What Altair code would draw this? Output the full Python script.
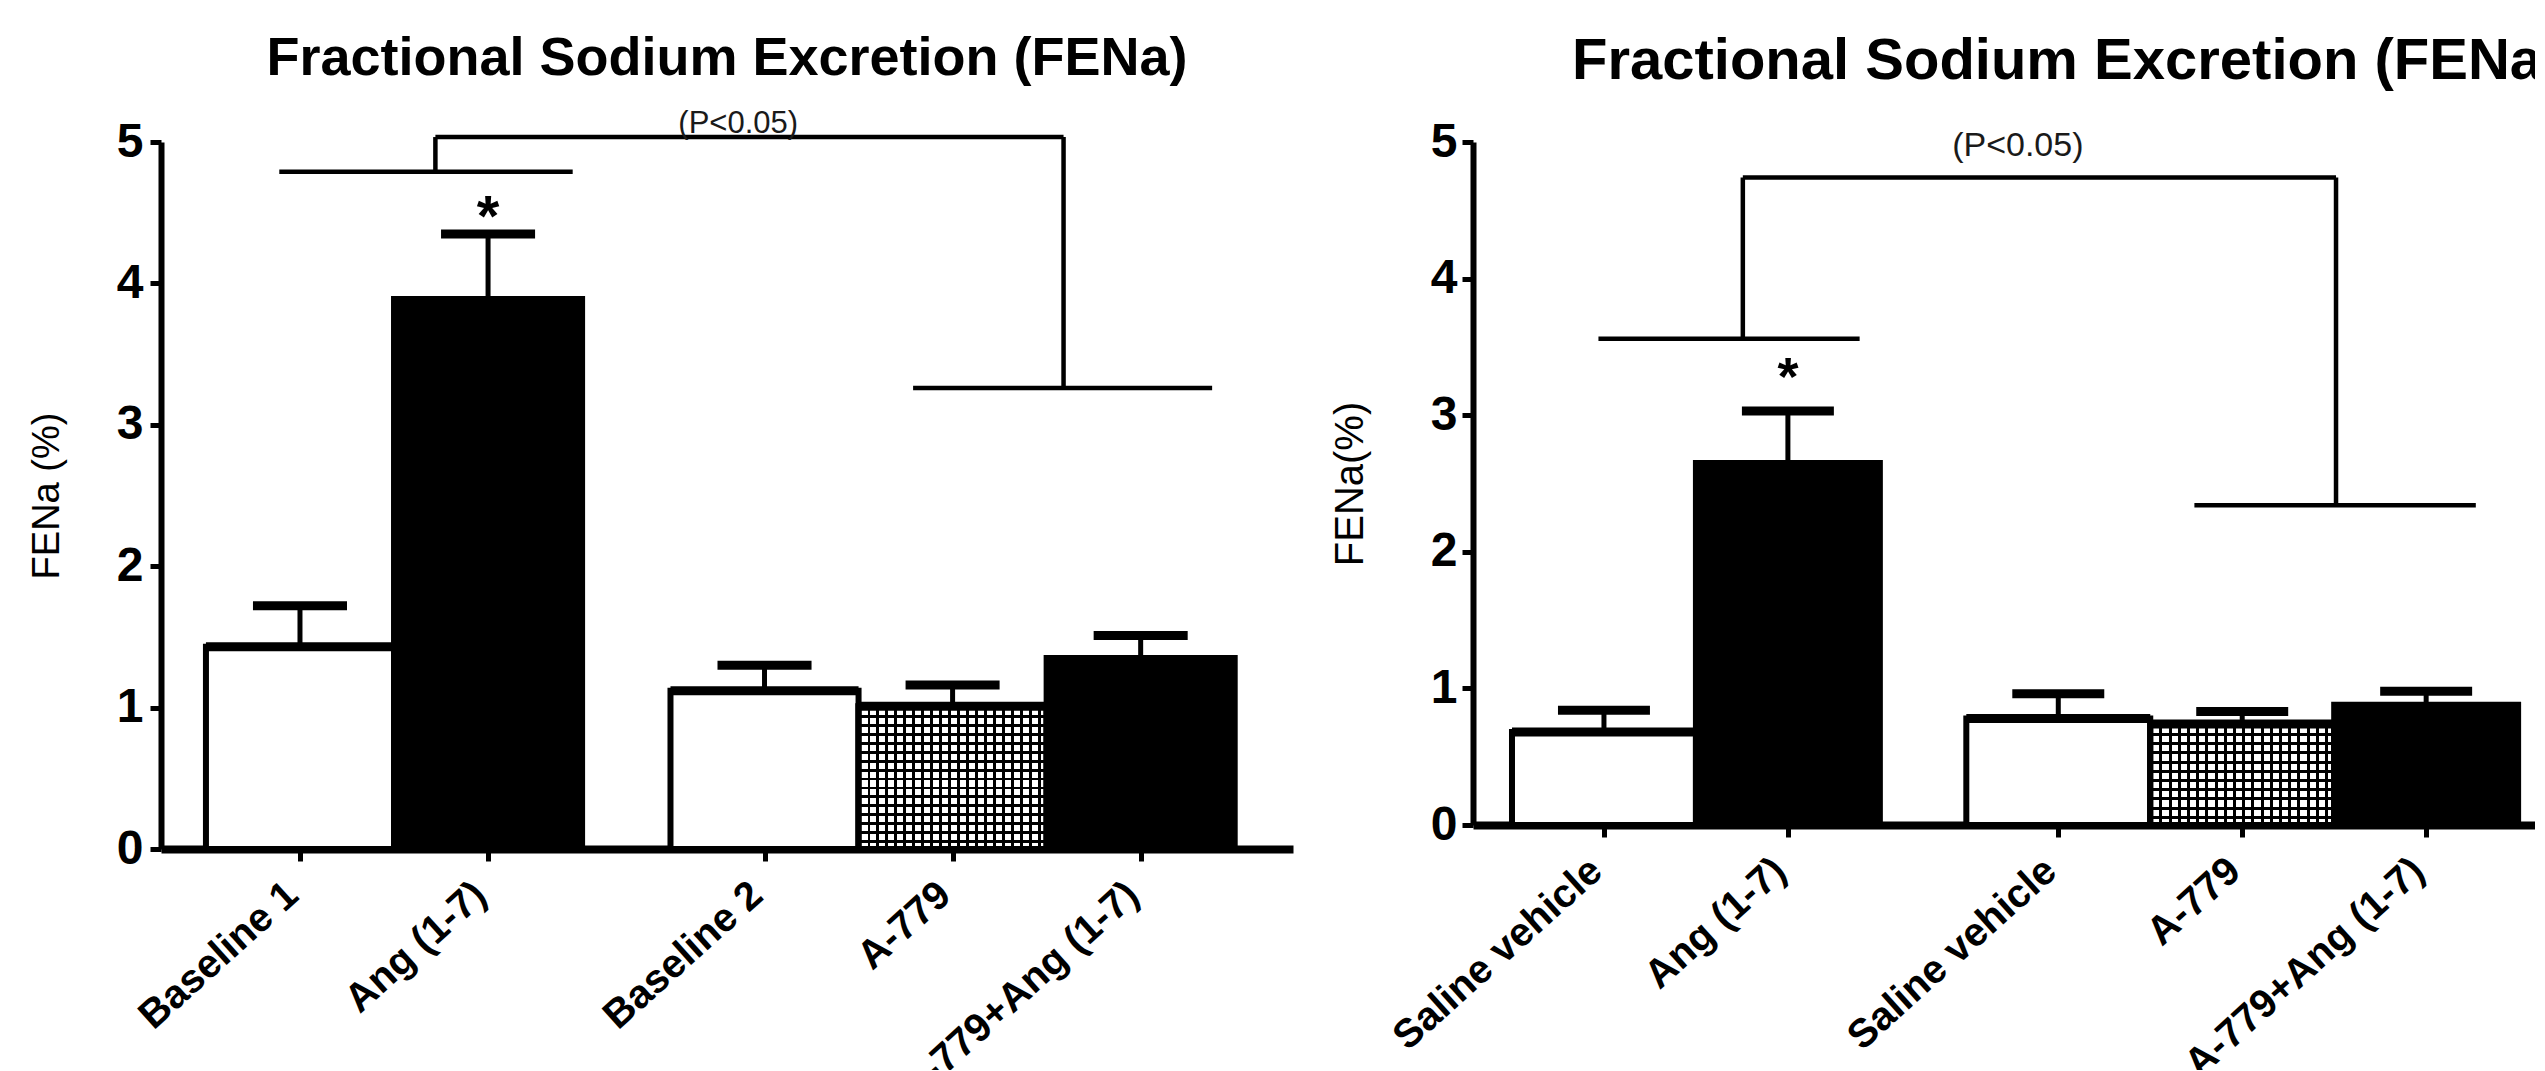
import json
import altair as alt
import pandas as pd

FONT = "Liberation Sans"

# ------------------------------------------------------------------ data
left_categories = ["Baseline 1", "Ang (1-7)", "Baseline 2", "A-779", "A-779+Ang (1-7)"]
left_means = [1.43, 3.89, 1.12, 1.01, 1.35]
left_upper = [1.72, 4.35, 1.30, 1.16, 1.51]          # mean + SEM
left_groups = [0, 0, 1, 1, 1]
left_fills = ["open", "solid", "open", "pattern", "solid"]

right_categories = ["Saline vehicle", "Ang (1-7)", "Saline vehicle", "A-779", "A-779+Ang (1-7)"]
right_means = [0.68, 2.65, 0.78, 0.74, 0.88]
right_upper = [0.84, 3.03, 0.96, 0.83, 0.98]
right_groups = [0, 0, 1, 1, 1]
right_fills = ["open", "solid", "open", "pattern", "solid"]

# significance brackets (x in bar slots, y in FENa %)
left_bracket_x = [-0.11, 0.72, 0.72, 4.06, 3.26]
left_bracket_x2 = [1.45, 0.72, 4.06, 4.06, 4.85]
left_bracket_y = [4.79, 4.79, 5.035, 5.035, 3.26]
left_bracket_y2 = [4.79, 5.035, 5.035, 3.26, 3.26]
left_p_label = ["(P<0.05)"]
left_p_x = [2.33]
left_p_y = [5.13]
left_star = ["*"]
left_star_x = [1.0]
left_star_y = [4.49]

right_bracket_x = [-0.03, 0.755, 0.755, 3.98, 3.21]
right_bracket_x2 = [1.39, 0.755, 3.98, 3.98, 4.74]
right_bracket_y = [3.56, 3.56, 4.74, 4.74, 2.34]
right_bracket_y2 = [3.56, 4.74, 4.74, 2.34, 2.34]
right_p_label = ["(P<0.05)"]
right_p_x = [2.25]
right_p_y = [4.97]
right_star = ["*"]
right_star_x = [1.0]
right_star_y = [3.30]

TITLE = "Fractional Sodium Excretion (FENa)"

# ------------------------------------------------------------------ layout constants
GAP = 0.47        # gap between the two bar groups, in bar widths
PERIOD = 9.0      # pixel period of the checkered fill


def slot_positions(groups):
    return [round(i + GAP * g, 4) for i, g in enumerate(groups)]


def stripes(n, along_x, frac=0.32):
    stops = []
    for i in range(n):
        a, b, c = i / n, (i + frac) / n, (i + 1) / n
        stops += [
            alt.GradientStop(offset=round(a, 5), color="black"),
            alt.GradientStop(offset=round(b, 5), color="black"),
            alt.GradientStop(offset=round(b, 5), color="rgba(0,0,0,0)"),
            alt.GradientStop(offset=round(c, 5), color="rgba(0,0,0,0)"),
        ]
    if along_x:
        return alt.LinearGradient(gradient="linear", stops=stops, x1=0, x2=1, y1=0, y2=0)
    return alt.LinearGradient(gradient="linear", stops=stops, x1=0, x2=0, y1=0, y2=1)


def panel(cats, means, upper, groups, fills, bx, bx2, by, by2,
          p_label, p_x, p_y, star, star_x, star_y, cfg):
    pos = slot_positions(groups)
    bars = pd.DataFrame({"cat": cats, "mean": means, "upper": upper,
                         "pos": pos, "fill": fills})
    xs = alt.Scale(domain=cfg["xdom"], nice=False, zero=False)
    ys = alt.Scale(domain=[0, 5], nice=False, zero=True)
    label_expr = f"{json.dumps(cats)}[indexof({json.dumps(pos)}, datum.value)]"

    xaxis = alt.Axis(values=pos, labelExpr=label_expr, title=None, grid=False,
                     domainColor="black", domainWidth=8, tickColor="black",
                     tickSize=12, tickWidth=5, labelAngle=-42, labelAlign="right",
                     labelBaseline="middle", labelOffset=-8, labelFont=FONT,
                     labelFontSize=40, labelFontWeight="bold", labelColor="black",
                     labelPadding=28, labelOverlap=False, labelFlush=False,
                     labelLimit=2000)
    yaxis = alt.Axis(values=[0, 1, 2, 3, 4, 5], format="d", grid=False,
                     title=cfg["ytitle"], titleFont=FONT, titleFontSize=cfg["ytsize"],
                     titleFontWeight="normal", titleColor="black",
                     titlePadding=cfg["ytpad"],
                     domainColor="black", domainWidth=6, tickColor="black",
                     tickSize=11, tickWidth=5, labelFont=FONT, labelFontSize=48,
                     labelFontWeight="bold", labelColor="black",
                     labelPadding=cfg["ylpad"])

    def X(field):
        return alt.X(field, scale=xs, axis=xaxis)

    def Y(field):
        return alt.Y(field, scale=ys, axis=yaxis)

    base = alt.Chart(bars).transform_calculate(
        x0="datum.pos - 0.5", x1="datum.pos + 0.5",
        c0="datum.pos - 0.25", c1="datum.pos + 0.25")

    body = base.mark_rect(stroke="black", strokeWidth=6).encode(
        x=X("x0:Q"), x2="x1:Q", y=Y("mean:Q"), y2=alt.datum(0),
        fill=alt.Fill("fill:N", legend=None,
                      scale=alt.Scale(domain=["open", "solid", "pattern"],
                                      range=["white", "black", "white"])))

    slot_px = cfg["width"] / (cfg["xdom"][1] - cfg["xdom"][0])
    pat_mean = [m for m, f in zip(means, fills) if f == "pattern"][0]
    n_x = max(1, round(slot_px / PERIOD))
    n_y = max(1, round(pat_mean * cfg["height"] / 5 / PERIOD))

    pat = base.transform_filter("datum.fill == 'pattern'")
    pat_v = pat.mark_rect(fill=stripes(n_x, True), strokeWidth=0).encode(
        x=X("x0:Q"), x2="x1:Q", y=Y("mean:Q"), y2=alt.datum(0))
    pat_h = pat.mark_rect(fill=stripes(n_y, False), strokeWidth=0).encode(
        x=X("x0:Q"), x2="x1:Q", y=Y("mean:Q"), y2=alt.datum(0))
    pat_outline = pat.mark_rect(fill="white", fillOpacity=0, stroke="black",
                                strokeWidth=6).encode(
        x=X("x0:Q"), x2="x1:Q", y=Y("mean:Q"), y2=alt.datum(0))

    tops = base.transform_filter("datum.fill != 'solid'").mark_rule(
        color="black", strokeWidth=9).encode(x=X("x0:Q"), x2="x1:Q", y=Y("mean:Q"))

    err = base.mark_rule(color="black", strokeWidth=5).encode(
        x=X("pos:Q"), y=Y("mean:Q"), y2="upper:Q")
    caps = base.mark_rule(color="black", strokeWidth=9).encode(
        x=X("c0:Q"), x2="c1:Q", y=Y("upper:Q"))

    br = pd.DataFrame({"x": bx, "x2": bx2, "y": by, "y2": by2})
    brackets = alt.Chart(br).mark_rule(color="black", strokeWidth=4.5).encode(
        x=X("x:Q"), x2="x2:Q", y=Y("y:Q"), y2="y2:Q")

    pt = pd.DataFrame({"x": p_x, "y": p_y, "t": p_label})
    ptext = alt.Chart(pt).mark_text(font=FONT, fontSize=cfg["psize"],
                                    baseline="middle", align="center",
                                    color="#1a1a1a").encode(
        x=X("x:Q"), y=Y("y:Q"), text="t:N")

    st = pd.DataFrame({"x": star_x, "y": star_y, "t": star})
    stars = alt.Chart(st).mark_text(font=FONT, fontSize=cfg["starsize"],
                                    fontWeight="bold", baseline="middle",
                                    align="center", color="black", dy=5).encode(
        x=X("x:Q"), y=Y("y:Q"), text="t:N")

    title = alt.TitleParams(text=TITLE, font=FONT, fontSize=cfg["tsize"],
                            fontWeight="bold", color="black", anchor=cfg["tanchor"],
                            frame="group", baseline="bottom",
                            offset=cfg["toffset"], dx=cfg["tdx"])

    return alt.layer(body, pat_v, pat_h, pat_outline, tops, err, caps,
                     brackets, ptext, stars).properties(
        width=cfg["width"], height=cfg["height"], title=title)


left_cfg = dict(xdom=[-0.739, 5.28], width=1132, height=707,
                ytitle="FENa (%)", ytsize=38, ytpad=50, ylpad=7,
                psize=31, starsize=58, tsize=54, tanchor="middle",
                toffset=-32, tdx=0)
right_cfg = dict(xdom=[-0.712, 5.6], width=1161, height=683,
                 ytitle="FENa(%)", ytsize=40, ytpad=60, ylpad=5,
                 psize=34, starsize=54, tsize=58, tanchor="start",
                 toffset=-31, tdx=99)

left = panel(left_categories, left_means, left_upper, left_groups, left_fills,
             left_bracket_x, left_bracket_x2, left_bracket_y, left_bracket_y2,
             left_p_label, left_p_x, left_p_y, left_star, left_star_x, left_star_y,
             left_cfg)
right = panel(right_categories, right_means, right_upper, right_groups, right_fills,
              right_bracket_x, right_bracket_x2, right_bracket_y, right_bracket_y2,
              right_p_label, right_p_x, right_p_y, right_star, right_star_x,
              right_star_y, right_cfg)

chart = alt.hconcat(left, right, spacing=37).properties(
    padding={"left": 20, "top": 23, "right": -99, "bottom": -39},
    background="white",
).configure_view(strokeOpacity=0)

chart.save("out.html", embed_options={"renderer": "svg", "actions": False})
